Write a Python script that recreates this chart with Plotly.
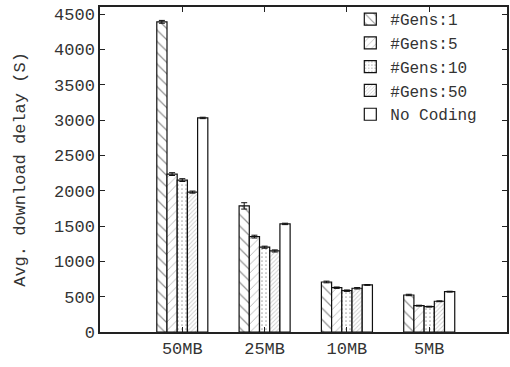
import plotly.graph_objects as go

categories = ["50MB", "25MB", "10MB", "5MB"]
cat_pos = [1, 2, 3, 4]
series_names = ["#Gens:1", "#Gens:5", "#Gens:10", "#Gens:50", "No Coding"]
gens1 = [4390, 1785, 708, 524]
gens5 = [2235, 1350, 627, 373]
gens10 = [2150, 1200, 585, 359]
gens50 = [1980, 1147, 619, 435]
nocoding = [3030, 1530, 666, 571]
err1 = [20, 45, 12, 10]
err5 = [20, 20, 10, 6]
err10 = [20, 15, 10, 6]
err50 = [15, 15, 10, 6]
err_nc = [10, 10, 6, 6]

values = [gens1, gens5, gens10, gens50, nocoding]
errors = [err1, err5, err10, err50, err_nc]
patterns = [
    dict(shape="\\", size=8, solidity=0.15, fgcolor="#222", bgcolor="white"),
    dict(shape="/", size=6, solidity=0.12, fgcolor="#444", bgcolor="white"),
    dict(shape=".", size=4, solidity=0.15, fgcolor="#555", bgcolor="white"),
    dict(shape="/", size=3, solidity=0.3, fgcolor="#999", bgcolor="white"),
    dict(shape="", bgcolor="white"),
]

FONT = "Liberation Mono, DejaVu Sans Mono, monospace"

fig = go.Figure()
for name, vals, errs, pat in zip(series_names, values, errors, patterns):
    fig.add_trace(go.Bar(
        name=name, x=cat_pos, y=vals,
        marker=dict(color="white", line=dict(color="#111", width=1.2), pattern=pat),
        error_y=dict(type="data", array=errs, color="#111", thickness=1, width=3),
    ))

fig.update_layout(
    width=510, height=367,
    margin=dict(l=100, r=1, t=7, b=35),
    paper_bgcolor="white", plot_bgcolor="white",
    barmode="group", bargap=0.38, bargroupgap=0,
    font=dict(family=FONT, size=17, color="#333"),
    showlegend=True,
    legend=dict(x=0.615, y=1.015, xanchor="left", yanchor="top",
                bgcolor="rgba(0,0,0,0)", font=dict(family=FONT, size=16, color="#333"),
                itemwidth=30, tracegroupgap=0),
    xaxis=dict(range=[0, 4.945], tickvals=cat_pos, ticktext=categories,
               showgrid=False, zeroline=False, showline=True, linecolor="#222", linewidth=1.5,
               mirror="ticks", ticks="inside", ticklen=5, tickcolor="#222",
               tickfont=dict(family=FONT, size=17, color="#333")),
    yaxis=dict(range=[0, 4600], dtick=500, tick0=0,
               showgrid=False, zeroline=False, showline=True, linecolor="#222", linewidth=1.5,
               mirror="ticks", ticks="inside", ticklen=5, tickcolor="#222",
               tickfont=dict(family=FONT, size=17, color="#333"),
               title=dict(text="Avg. download delay (S)", standoff=24,
                          font=dict(family=FONT, size=17, color="#333"))),
)

fig.write_html("out.html")
